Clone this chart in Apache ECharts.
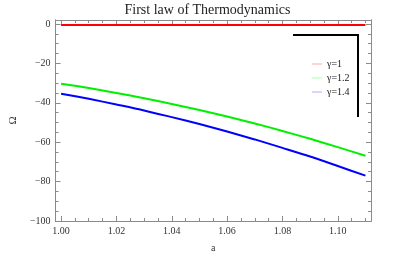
<!DOCTYPE html>
<html>
<head>
<meta charset="utf-8">
<script src="https://cdn.jsdelivr.net/npm/echarts@6/dist/echarts.min.js"></script>
<style>html,body{margin:0;padding:0;background:#fff}#c{width:415px;height:260px}</style>
</head>
<body>
<div id="c"></div>
<script>
const aValues = [1.00, 1.01, 1.02, 1.03, 1.04, 1.05, 1.06, 1.07, 1.08, 1.09, 1.10, 1.11];
const omegaGamma1 = [-0.6, -0.6, -0.6, -0.6, -0.6, -0.6, -0.6, -0.6, -0.6, -0.6, -0.6, -0.6];
const omegaGamma12 = [-30.3, -32.5, -35.0, -37.7, -40.6, -43.7, -47.0, -50.5, -54.3, -58.3, -62.5, -66.9];
const omegaGamma14 = [-35.4, -38.0, -40.9, -43.9, -47.3, -50.8, -54.6, -58.6, -62.9, -67.3, -72.1, -77.0];
const seriesNames = ['γ=1', 'γ=1.2', 'γ=1.4'];
const xMajorTicks = [1.00, 1.02, 1.04, 1.06, 1.08, 1.10];
const xMinorTicks = [1.005, 1.01, 1.015, 1.025, 1.03, 1.035, 1.045, 1.05, 1.055, 1.065, 1.07, 1.075, 1.085, 1.09, 1.095, 1.105, 1.11];
const yMajorTicks = [-100, -80, -60, -40, -20, 0];
const yMinorTicks = [-95, -90, -85, -75, -70, -65, -55, -50, -45, -35, -30, -25, -15, -10, -5];

const XMIN = 0.998, XMAX = 1.112, YMIN = -100, YMAX = 2;
const font = '"Liberation Serif", "DejaVu Serif", serif';
const frameColor = '#8a8a8a';

function xAxisDef(pos, major, withLabel) {
  return {
    type: 'value', position: pos, min: XMIN, max: XMAX,
    axisLine: { show: true, onZero: false, lineStyle: { color: frameColor, width: 1 } },
    splitLine: { show: false },
    axisTick: { show: true, inside: true, length: major ? 5 : 3, customValues: major ? xMajorTicks : xMinorTicks, lineStyle: { color: frameColor } },
    axisLabel: withLabel ? { show: true, customValues: xMajorTicks, fontFamily: font, fontSize: 10, color: '#333', margin: 5,
      formatter: v => Number(v).toFixed(2) } : { show: false },
    name: withLabel ? 'a' : '', nameLocation: 'middle', nameGap: 22,
    nameTextStyle: { fontFamily: font, fontSize: 10, color: '#333' }
  };
}
function yAxisDef(pos, major, withLabel) {
  return {
    type: 'value', position: pos, min: YMIN, max: YMAX,
    axisLine: { show: true, onZero: false, lineStyle: { color: frameColor, width: 1 } },
    splitLine: { show: false },
    axisTick: { show: true, inside: true, length: major ? 5 : 3, customValues: major ? yMajorTicks : yMinorTicks, lineStyle: { color: frameColor } },
    axisLabel: withLabel ? { show: true, customValues: yMajorTicks, fontFamily: font, fontSize: 10, color: '#333', margin: 5,
      formatter: v => (v < 0 ? '\u2212' + Math.abs(v) : String(v)) } : { show: false },
    name: withLabel ? 'Ω' : '', nameLocation: 'middle', nameGap: 32, nameRotate: 90,
    nameTextStyle: { fontFamily: font, fontSize: 11, color: '#333' }
  };
}

const chart = echarts.init(document.getElementById('c'), null, { renderer: 'canvas' });
const lineColors = ['#ff0000', '#00f000', '#0000ff'];
const legendColors = ['#ffaaaa', '#aaffaa', '#aaaaff'];
const seriesData = [omegaGamma1, omegaGamma12, omegaGamma14];

chart.setOption({
  animation: false,
  backgroundColor: '#fff',
  title: { text: 'First law of Thermodynamics', left: 'center', top: -2,
    textStyle: { fontFamily: font, fontSize: 14, fontWeight: 'normal', color: '#222' } },
  grid: { left: 48, right: 44, top: 20, bottom: 39 },
  xAxis: [xAxisDef('bottom', true, true), xAxisDef('bottom', false, false), xAxisDef('top', true, false), xAxisDef('top', false, false)],
  yAxis: [yAxisDef('left', true, true), yAxisDef('left', false, false), yAxisDef('right', true, false), yAxisDef('right', false, false)],
  legend: {
    orient: 'vertical', left: 307, top: 54, itemGap: 4, itemWidth: 10, itemHeight: 1,
    icon: 'rect',
    textStyle: { fontFamily: font, fontSize: 10, color: '#222' },
    data: seriesNames.map((n, i) => ({ name: n, itemStyle: { color: legendColors[i] } }))
  },
  graphic: [{
    type: 'polyline', silent: true,
    shape: { points: [[293, 35], [358, 35], [358, 117]] },
    style: { stroke: '#000', lineWidth: 2, fill: null }
  }],
  series: seriesNames.map((n, i) => ({
    name: n, type: 'line', xAxisIndex: 0, yAxisIndex: 0,
    data: aValues.map((a, k) => [a, seriesData[i][k]]),
    showSymbol: false, smooth: 0.3,
    lineStyle: { color: lineColors[i], width: 2 },
    itemStyle: { color: lineColors[i] }
  }))
});
</script>
</body>
</html>
